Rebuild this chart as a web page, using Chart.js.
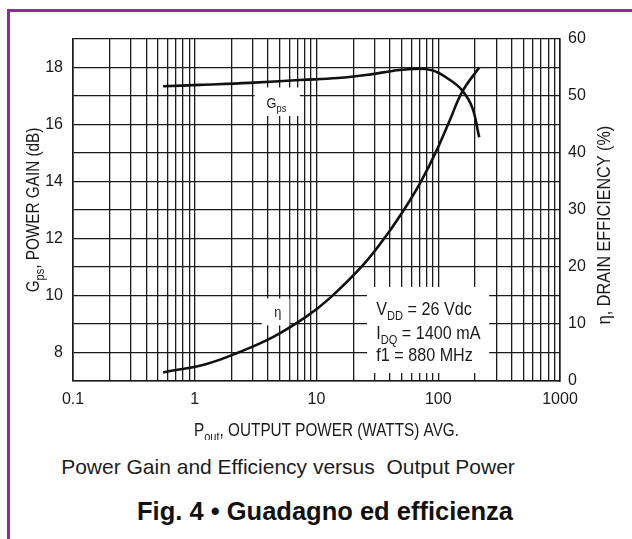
<!DOCTYPE html>
<html lang="en">
<head>
    <meta charset="UTF-8">
    <title>Power Gain and Efficiency versus Output Power</title>
    <script src="https://cdn.jsdelivr.net/npm/chart.js"></script>
    <style>
        html, body {
            margin: 0;
            padding: 0;
            background: #fff;
        }
        body {
            width: 632px;
            height: 539px;
            position: relative;
            overflow: hidden;
            font-family: 'Liberation Sans', Arial, sans-serif;
            color: #1c1c1c;
        }
        .frame {
            position: absolute;
            left: 7px;
            top: 9px;
            width: 640px;
            height: 560px;
            border-left: 3px solid #8a2f91;
            border-top: 3px solid #8a2f91;
        }
        #chart {
            position: absolute;
            left: 0;
            top: 0;
        }
        .cap1 {
            position: absolute;
            left: 0;
            width: 576px;
            top: 455px;
            line-height: 24px;
            text-align: center;
            font-size: 21px;
            white-space: pre;
        }
        .cap2 {
            position: absolute;
            left: 20px;
            width: 610px;
            top: 497px;
            line-height: 29px;
            text-align: center;
            font-size: 25.5px;
            font-weight: bold;
            color: #111;
        }
    </style>
</head>
<body>
    <div class="frame"></div>
    <canvas id="chart" width="632" height="440"></canvas>
    <div class="cap1">Power Gain and Efficiency versus  Output Power</div>
    <div class="cap2">Fig. 4 • Guadagno ed efficienza</div>

    <script>
        // data
        const gainPower = [0.55, 1.1, 2.8, 7.3, 15, 28, 42, 61, 89, 123, 157, 190, 217];
        const gainDb = [17.34, 17.39, 17.46, 17.56, 17.63, 17.76, 17.88, 17.95, 17.9, 17.58, 17.2, 16.6, 15.55];

        const effPower = [0.55, 1.25, 2.34, 4.38, 8.24, 12.8, 24.5, 38.3, 57.8, 74.3, 95.7, 123, 158, 217];
        const effPct = [1.5, 3.0, 5.1, 7.7, 11.3, 14.5, 20.5, 25.8, 31.5, 35.5, 40.2, 45.5, 50.8, 55.0];

        const powerDecades = [0.1, 1, 10, 100, 1000];
        const gainTickLabels = [8, 10, 12, 14, 16, 18];
        const effTickLabels = [0, 10, 20, 30, 40, 50, 60];

        const FONT = "'Liberation Sans', Arial, sans-serif";
        const INK = '#1a1a1a';
        const SQUEEZE = 0.85; // the datasheet uses a narrow face

        // text with subscripts: parts = [[text, isSub], ...], drawn condensed
        function drawParts(ctx, parts, x, y, size, align) {
            const small = Math.round(size * 0.7);
            const widths = parts.map(p => {
                ctx.font = (p[1] ? small : size) + 'px ' + FONT;
                return ctx.measureText(p[0]).width;
            });
            const total = widths.reduce((a, b) => a + b, 0);
            ctx.save();
            ctx.translate(x, y);
            ctx.scale(SQUEEZE, 1);
            let cx = align === 'center' ? -total / 2 : 0;
            parts.forEach((p, i) => {
                ctx.font = (p[1] ? small : size) + 'px ' + FONT;
                ctx.fillText(p[0], cx, p[1] ? size * 0.25 : 0);
                cx += widths[i];
            });
            ctx.restore();
        }

        function drawRotated(ctx, parts, cx, cy, size) {
            ctx.save();
            ctx.translate(cx, cy);
            ctx.rotate(-Math.PI / 2);
            drawParts(ctx, parts, 0, size * 0.36, size, 'center');
            ctx.restore();
        }

        // white patches behind the in-plot labels (in axis units: watts, dB)
        const labelBoxes = [
            { p: [3.1, 7.3], g: [16.3, 17.3] },
            { p: [3.55, 6.0], g: [8.95, 9.9] },
            { p: [26, 262], g: [7.28, 10.3] }
        ];

        const notesPlugin = {
            id: 'notes',
            beforeDatasetsDraw(chart) {
                const { ctx, scales: { x, y } } = chart;
                ctx.save();
                ctx.fillStyle = '#fff';
                labelBoxes.forEach(b => {
                    const x0 = x.getPixelForValue(b.p[0]);
                    const x1 = x.getPixelForValue(b.p[1]);
                    const y0 = y.getPixelForValue(b.g[1]);
                    const y1 = y.getPixelForValue(b.g[0]);
                    ctx.fillRect(x0, y0, x1 - x0, y1 - y0);
                });
                ctx.fillStyle = INK;
                ctx.textBaseline = 'alphabetic';
                ctx.textAlign = 'left';
                drawParts(ctx, [['G'], ['ps', 1]], x.getPixelForValue(3.89), y.getPixelForValue(16.57), 15, 'left');
                drawParts(ctx, [['η']], x.getPixelForValue(4.5), y.getPixelForValue(9.26), 15, 'left');
                const tx = x.getPixelForValue(31);
                drawParts(ctx, [['V'], ['DD', 1], [' = 26 Vdc']], tx, y.getPixelForValue(9.3), 19, 'left');
                drawParts(ctx, [['I'], ['DQ', 1], [' = 1400 mA']], tx, y.getPixelForValue(8.46), 19, 'left');
                drawParts(ctx, [['f1 = 880 MHz']], tx, y.getPixelForValue(7.69), 19, 'left');
                ctx.restore();
            },
            afterDraw(chart) {
                const { ctx, chartArea: a } = chart;
                ctx.save();
                ctx.fillStyle = INK;
                ctx.textBaseline = 'alphabetic';
                ctx.textAlign = 'left';
                drawRotated(ctx, [['G'], ['ps', 1], [', POWER GAIN (dB)']], a.left - 40, (a.top + a.bottom) / 2, 18);
                drawRotated(ctx, [['η'], [', DRAIN EFFICIENCY (%)']], a.right + 43, (a.top + a.bottom) / 2 + 15, 19);
                drawParts(ctx, [['P'], ['out', 1], [', OUTPUT POWER (WATTS) AVG.']], (a.left + a.right) / 2 + 10, a.bottom + 55, 18, 'center');
                ctx.restore();
            }
        };

        const ctx = document.getElementById('chart').getContext('2d');
        new Chart(ctx, {
            type: 'line',
            data: {
                datasets: [{
                    label: 'Gps',
                    data: gainPower.map((p, i) => ({ x: p, y: gainDb[i] })),
                    yAxisID: 'y',
                    borderColor: '#111',
                    borderWidth: 2.6,
                    pointRadius: 0,
                    tension: 0.4,
                    fill: false
                }, {
                    label: 'η',
                    data: effPower.map((p, i) => ({ x: p, y: effPct[i] })),
                    yAxisID: 'y1',
                    borderColor: '#111',
                    borderWidth: 2.6,
                    pointRadius: 0,
                    tension: 0.4,
                    fill: false
                }]
            },
            options: {
                responsive: false,
                animation: false,
                devicePixelRatio: 1,
                layout: { padding: { top: 39, left: 0, right: 0, bottom: 0 } },
                plugins: {
                    legend: { display: false },
                    tooltip: { enabled: false }
                },
                scales: {
                    x: {
                        type: 'logarithmic',
                        min: 0.1,
                        max: 1000,
                        afterBuildTicks: scale => {
                            const ticks = [];
                            powerDecades.forEach(d => {
                                for (let k = 1; k <= 9; k++) {
                                    if (d * k <= 1000) ticks.push({ value: d * k });
                                }
                            });
                            scale.ticks = ticks;
                        },
                        afterFit: scale => { scale.height = 59; },
                        ticks: {
                            autoSkip: false,
                            maxRotation: 0,
                            padding: 9,
                            color: INK,
                            font: { family: FONT, size: 16 },
                            callback: v => powerDecades.includes(v) ? String(v) : ''
                        },
                        grid: { color: INK, lineWidth: 1.3, drawTicks: false },
                        border: { color: INK, width: 1.6 }
                    },
                    y: {
                        position: 'left',
                        min: 7,
                        max: 19,
                        afterFit: scale => { scale.width = 73; },
                        ticks: {
                            stepSize: 1,
                            autoSkip: false,
                            padding: 10,
                            color: INK,
                            font: { family: FONT, size: 16 },
                            callback: v => gainTickLabels.includes(v) ? String(v) : ''
                        },
                        grid: { color: INK, lineWidth: 1.3, drawTicks: false },
                        border: { color: INK, width: 1.6 }
                    },
                    y1: {
                        position: 'right',
                        min: 0,
                        max: 60,
                        afterBuildTicks: scale => {
                            scale.ticks = effTickLabels.map(v => ({ value: v }));
                        },
                        afterFit: scale => { scale.width = 72; },
                        ticks: {
                            autoSkip: false,
                            padding: 8,
                            color: INK,
                            font: { family: FONT, size: 16 }
                        },
                        grid: { display: false, drawTicks: false },
                        border: { color: INK, width: 1.6 }
                    }
                }
            },
            plugins: [notesPlugin]
        });
    </script>
</body>
</html>
